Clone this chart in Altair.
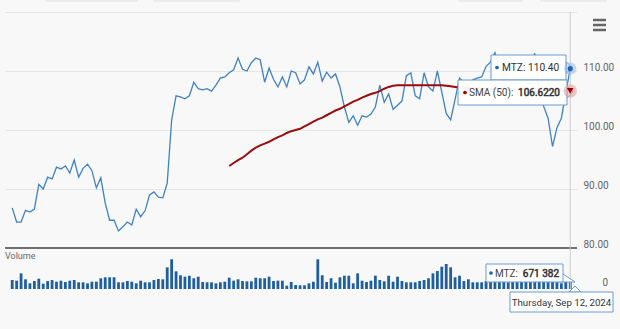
import altair as alt
import pandas as pd

# ---------------- data ----------------
holidays = ["2024-03-29", "2024-05-27", "2024-06-19", "2024-07-04", "2024-09-02"]
dates = pd.bdate_range("2024-03-13", "2024-09-12", freq="C", holidays=holidays)
date_str = [d.strftime("%Y-%m-%d") for d in dates]

tick_dates = ["2024-03-25", "2024-04-22", "2024-05-20", "2024-06-17", "2024-07-15", "2024-08-12"]
tick_labels = ["25. Mar", "22. Apr", "20. May", "17. Jun", "15. Jul", "12. Aug"]
price_ticks = [80, 90, 100, 110, 120]

close = [
    86.8, 84.4, 84.4, 86.4, 86.1, 86.6, 90.8, 90.0, 92.0, 91.7,
    93.7, 93.4, 93.9, 92.7, 94.9, 92.0, 93.5, 94.2, 93.1, 90.2,
    91.9, 87.6, 84.7, 84.7, 82.9, 83.6, 84.4, 83.9, 86.6, 85.3,
    86.3, 89.0, 89.5, 88.6, 88.5, 91.0, 101.7, 105.8, 105.6, 105.3,
    105.8, 108.1, 107.0, 106.8, 107.0, 106.6, 107.6, 108.8, 109.0, 109.7,
    110.2, 112.2, 110.3, 110.0, 111.4, 112.2, 111.9, 108.1, 110.5, 108.6,
    107.3, 109.0, 107.3, 110.0, 109.7, 107.8, 108.5, 110.7, 109.5, 111.5,
    108.3, 109.8, 108.8, 109.5, 107.3, 103.9, 101.3, 102.4, 100.8, 102.4,
    102.2, 102.7, 103.9, 107.6, 104.7, 106.1, 103.5, 104.2, 104.9, 109.2,
    109.7, 105.8, 105.3, 109.7, 107.3, 106.6, 110.0, 106.4, 102.8, 101.7,
    105.2, 108.8, 108.0, 107.5, 108.5, 108.8, 109.0, 110.8, 111.5, 113.1,
    110.8, 111.3, 110.2, 111.0, 110.5, 111.2, 110.0, 111.0, 113.0, 107.0,
    104.0, 102.0, 97.2, 100.4, 102.0, 106.3, 110.4,
]

volume_k = [
    870, 805, 1520, 940, 550, 775, 1000, 515, 775, 870,
    710, 805, 680, 805, 870, 650, 650, 550, 710, 710,
    1040, 1135, 1135, 1135, 650, 650, 775, 710, 550, 805,
    650, 650, 870, 970, 940, 2100, 2880, 1715, 1330, 1195,
    1290, 1040, 1195, 680, 650, 650, 550, 650, 710, 1095,
    805, 940, 775, 745, 745, 1095, 1040, 1040, 1195, 775,
    805, 805, 320, 680, 390, 360, 360, 550, 710, 2880,
    1330, 680, 1040, 610, 1135, 1290, 1290, 550, 1520, 805,
    680, 805, 1290, 870, 745, 1290, 710, 1195, 775, 650,
    650, 650, 775, 870, 1040, 1520, 1745, 2165, 2425, 2100,
    1135, 1290, 775, 940, 650, 650, 650, 775, 680, 805,
    680, 745, 650, 775, 680, 710, 840, 680, 745, 870,
    970, 805, 940, 680, 550, 710, 671.382,
]

sma_start = 49
sma50 = [
    93.9, 94.4, 94.9, 95.3, 95.9, 96.5, 97.0, 97.4, 97.7, 98.0,
    98.4, 98.8, 99.1, 99.5, 99.8, 100.0, 100.2, 100.6, 101.0, 101.4,
    101.8, 102.1, 102.5, 102.9, 103.3, 103.6, 104.0, 104.4, 104.8, 105.1,
    105.5, 105.8, 106.1, 106.3, 106.6, 107.0, 107.3, 107.5, 107.6, 107.6,
    107.6, 107.6, 107.6, 107.6, 107.6, 107.6, 107.6, 107.6, 107.6, 107.5,
    107.4, 107.3, 107.2, 107.2, 107.1, 107.1, 107.1, 107.0, 107.0, 107.0,
    107.0, 107.0, 107.0, 107.0, 106.9, 106.9, 106.9, 106.9, 106.9, 106.9,
    106.9, 106.8, 106.8, 106.7, 106.7, 106.7, 106.6, 106.622,
]

n = len(close)
df = pd.DataFrame({"i": list(range(n)), "date": date_str[:n], "close": close, "vol": volume_k})
df_sma = pd.DataFrame({"i": list(range(sma_start, sma_start + len(sma50))), "sma": sma50})
last = df.tail(1)
last_sma = df_sma.tail(1)
one = pd.DataFrame({"k": [0]})

tick_idx = [date_str.index(d) for d in tick_dates]

# ---------------- layout ----------------
FONT = "Roboto, sans-serif"
L, T = 5, 12          # plot origin in page pixels
W, H = 572, 277       # plot area
PRICE_RANGE = [236, 0]
VOL_RANGE = [277, 241]
BLUE = "#3f82c4"
VOLBLUE = "#1f5f9e"
RED = "#9b0d0d"
TIPBORDER = "#6a9bd0"

xscale = alt.Scale(domain=[-0.5, 126.4], nice=False, zero=False)
label_expr = "[" + ",".join("'%s'" % s for s in tick_labels) + "][indexof([" + \
    ",".join(str(v) for v in tick_idx) + "], datum.value)]"
X = alt.X("i:Q", scale=xscale, axis=alt.Axis(
    values=tick_idx, labelExpr=label_expr, grid=False, domain=False, ticks=True,
    tickSize=6, tickColor="#d0d0d0", labelPadding=4, labelFont=FONT, labelFontSize=10,
    labelColor="#666666", title=None, labelFlush=False, labelOverlap=False))
Xn = alt.X("i:Q", scale=xscale, axis=None)

pscale = alt.Scale(domain=[80, 120], range=PRICE_RANGE, nice=False, zero=False)
vscale = alt.Scale(domain=[0, 3492], range=VOL_RANGE, nice=False, zero=True)


def px(x):
    return alt.value(x - L)


def py(y):
    return alt.value(y - T)


volume = alt.Chart(df).mark_bar(size=2.8, color=VOLBLUE).encode(
    x=X, y=alt.Y("vol:Q", scale=vscale, axis=None))

price = alt.Chart(df).mark_line(color=BLUE, strokeWidth=1.3).encode(
    x=Xn,
    y=alt.Y("close:Q", scale=pscale, axis=alt.Axis(
        orient="right", values=price_ticks,
        labelExpr="datum.value >= 120 ? '' : format(datum.value, '.2f')",
        grid=True, gridColor="#e6e6e6", ticks=False, domain=False,
        labelAlign="left", labelBaseline="alphabetic", labelPadding=6, labelOffset=-1,
        labelFont=FONT, labelFontSize=10, labelColor="#666666", title=None)))

sma_line = alt.Chart(df_sma).mark_line(color=RED, strokeWidth=2).encode(
    x=Xn, y=alt.Y("sma:Q", scale=pscale, axis=None))

pane_line = alt.Chart(one).mark_rule(color="#707070", strokeWidth=2).encode(
    x=alt.value(0), x2=alt.value(W), y=alt.value(PRICE_RANGE[0]))

crosshair = alt.Chart(last).mark_rule(color="#cccccc", strokeWidth=1).encode(
    x=Xn, y=alt.value(0), y2=alt.value(VOL_RANGE[0]))

halo_p = alt.Chart(last).mark_circle(size=150, color="#8fb8e6", opacity=0.5).encode(
    x=Xn, y=alt.Y("close:Q", scale=pscale, axis=None))
dot_p = alt.Chart(last).mark_circle(size=26, color="#1f64b0", opacity=1).encode(
    x=Xn, y=alt.Y("close:Q", scale=pscale, axis=None))
halo_s = alt.Chart(last_sma).mark_circle(size=180, color="#e3a3a3", opacity=0.6).encode(
    x=Xn, y=alt.Y("sma:Q", scale=pscale, axis=None))
tri_s = alt.Chart(last_sma).mark_point(shape="triangle-down", size=45, filled=True,
                                        color="#a00000", opacity=1).encode(
    x=Xn, y=alt.Y("sma:Q", scale=pscale, axis=None))


def box(x1, y1, x2, y2):
    return alt.Chart(one).mark_rect(fill="#ffffff", fillOpacity=0.95, stroke=TIPBORDER,
                                    strokeWidth=1).encode(
        x=px(x1), x2=px(x2), y=py(y1), y2=py(y2))


def arrow(x, y, path, size):
    return alt.Chart(one).mark_point(shape=path, size=size, filled=True, fill="#ffffff",
                                     fillOpacity=1, stroke=TIPBORDER, strokeWidth=1,
                                     opacity=1).encode(x=px(x), y=py(y))


def txt(x, y, s, size=10.2, bold=False, align="left", color="#333333"):
    kw = dict(text=s, align=align, baseline="middle", font=FONT, fontSize=size,
              fontWeight="normal", color=color)
    if bold:
        kw.update(stroke=color, strokeWidth=0.5)
    return alt.Chart(one).mark_text(**kw).encode(x=px(x), y=py(y))


def dot(x, y, color):
    return alt.Chart(one).mark_circle(size=14, color=color, opacity=1).encode(x=px(x), y=py(y))


RIGHT_TRI = "M0,-1L1,0L0,1Z"
UP_TRI = "M-1,0L0,-1L1,0Z"
CORNER_TRI = "M0,-0.67L1,0L-0.67,0Z"

tips = [
    # MTZ price tooltip
    arrow(566, 67.5, RIGHT_TRI, 144),
    box(491, 55, 566, 80),
    dot(497, 67.5, "#1f64b0"),
    txt(502, 68, "MTZ: 110.40"),
    # SMA tooltip
    arrow(567, 92, RIGHT_TRI, 144),
    box(458, 80, 567, 105),
    dot(465, 92.5, "#a00000"),
    txt(469, 93, "SMA (50): ", size=10, color="#444444"),
    txt(560, 93, "106.6220", size=10, bold=True, align="right"),
    # volume tooltip
    arrow(563, 282, CORNER_TRI, 576),
    box(486, 264, 563, 282),
    dot(491, 273, "#1f64b0"),
    txt(495, 273.5, "MTZ: ", size=10, color="#444444"),
    txt(559, 273.5, "671 382", size=10, bold=True, align="right"),
    # date tooltip
    arrow(575, 292, UP_TRI, 144),
    box(510, 292, 613, 312),
    txt(561.5, 302.5, "Thursday, Sep 12, 2024", size=9.7, align="center"),
]

extras = [
    txt(5, 256, "Volume", size=9, color="#666666"),
    alt.Chart(one).mark_text(text="0", align="right", baseline="alphabetic", font=FONT,
                             fontSize=10, color="#666666").encode(x=px(608), y=py(286)),
]

hamburger = [
    alt.Chart(one).mark_rule(color="#666666", strokeWidth=2.5).encode(
        x=px(593), x2=px(606), y=py(yy)) for yy in (20, 25, 30)
]

top_boxes = [
    alt.Chart(one).mark_rect(fill="#fbfbfb", stroke="#dddddd", strokeWidth=1,
                             cornerRadius=2).encode(
        x=px(a), x2=px(b), y=py(-10), y2=py(1))
    for a, b in ((45, 138), (153, 240), (458, 523), (540, 607))
]

layers = top_boxes + [volume, price, sma_line, pane_line, crosshair] + tips + \
    [halo_p, halo_s, dot_p, tri_s] + extras + hamburger

chart = alt.layer(*layers).resolve_scale(y="independent").resolve_axis(y="independent").properties(
    width=W, height=H,
    autosize=alt.AutoSizeParams(type="none"),
    padding={"left": L, "top": T, "right": 620 - L - W, "bottom": 329 - T - H},
    background="#f8f8f8",
).configure_view(stroke=None)

chart.save("out.html", embed_options={"renderer": "svg", "actions": False})
